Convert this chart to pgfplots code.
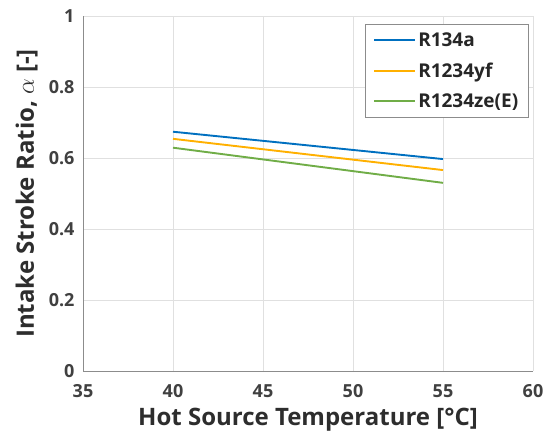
\documentclass[border=0pt]{standalone}
\usepackage{fontspec}
\setmainfont{Open Sans}
\usepackage{pgfplots}
\pgfplotsset{compat=1.18}
\definecolor{cblue}{HTML}{0070C0}
\definecolor{corange}{HTML}{FFB000}
\definecolor{cgreen}{HTML}{70AD47}
\definecolor{ctext}{HTML}{404040}
\definecolor{caxis}{HTML}{8C8C8C}
\definecolor{cgrid}{HTML}{E0E0E0}
\begin{document}
\begin{tikzpicture}[x=1pt,y=1pt]
\useasboundingbox (0,0) rectangle (545,442);
\begin{axis}[
  at={(83pt,71pt)}, anchor=south west,
  scale only axis, width=450pt, height=355pt,
  xmin=35, xmax=60, ymin=0, ymax=1,
  xtick={35,40,...,60}, ytick={0,0.2,...,1},
  axis x line*=bottom, axis y line*=left,
  axis line style={caxis, line width=0.8pt, -},
  grid=major, major grid style={cgrid, line width=0.8pt},
  major tick length=0pt,
  /pgf/number format/assume math mode=true,
  ticklabel style={font=\fontsize{18}{20}\selectfont\bfseries, text=ctext},
  xticklabel style={yshift=-10pt},
  yticklabel style={/pgf/number format/fixed, xshift=-5pt},
  xlabel={Hot Source Temperature [°C]},
  ylabel={Intake Stroke Ratio, $\alpha$ [-]},
  label style={font=\fontsize{24}{26}\selectfont\bfseries, text=ctext!70!black},
  xlabel style={at={(axis description cs:0.5,-0.138)}, anchor=center},
  ylabel style={at={(axis description cs:-0.125,0.5)}, anchor=center, rotate=0},
  legend style={at={(axis description cs:0.627,0.977)}, anchor=north west,
    draw=caxis, thin, font=\fontsize{19}{21}\selectfont\bfseries,
    text=black!85, inner xsep=8pt, inner ysep=6pt, row sep=11pt,
    cells={anchor=west}},
  legend image code/.code={\draw[#1, line width=1.9pt] (0pt,0pt) -- (41pt,0pt);},
]
\addplot[cblue, line width=1.9pt] coordinates {(40,0.674) (55,0.597)};
\addlegendentry{R134a}
\addplot[corange, line width=1.9pt] coordinates {(40,0.654) (55,0.566)};
\addlegendentry{R1234yf}
\addplot[cgreen, line width=1.9pt] coordinates {(40,0.629) (55,0.530)};
\addlegendentry{R1234ze(E)}
\end{axis}
\end{tikzpicture}
\end{document}
